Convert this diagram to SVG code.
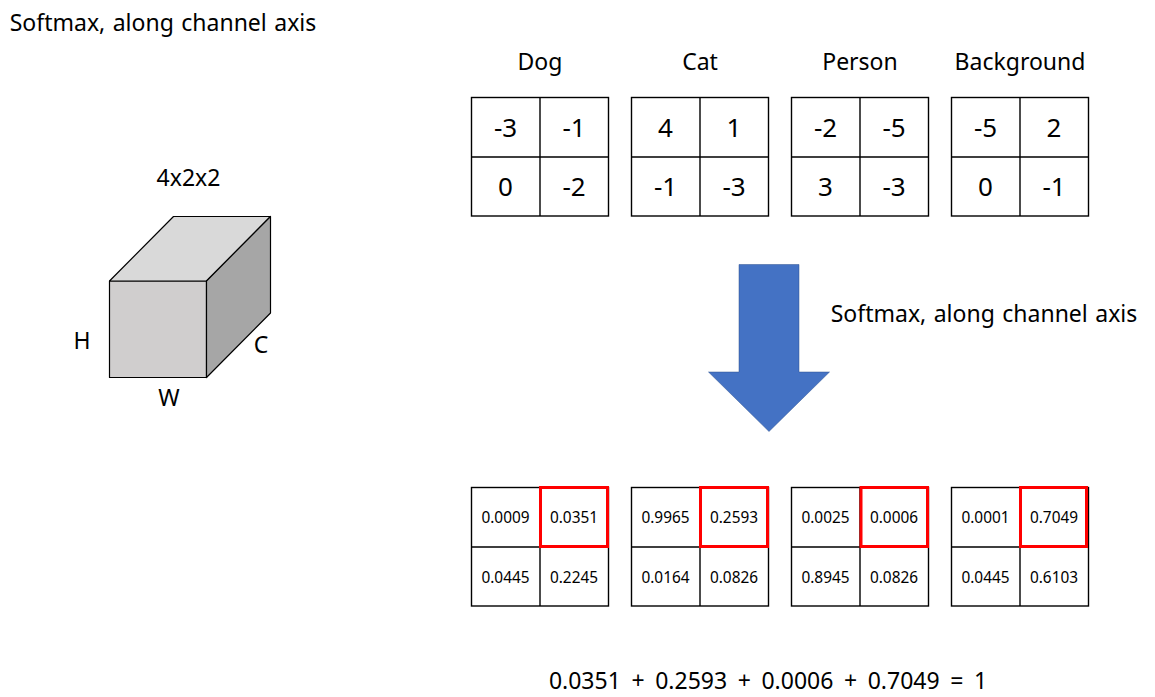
<svg xmlns="http://www.w3.org/2000/svg" width="1155" height="697" viewBox="0 0 1155 697">
<style>
text{font-family:"Noto Sans","Open Sans","Liberation Sans",sans-serif;fill:#000;text-anchor:middle}
.l{font-size:23px}
.w{word-spacing:1.5px}
.n{font-size:26px}
.s{font-size:15.4px}
.g{fill:#fff;stroke:#000;stroke-width:1.4}
.h{fill:none;stroke:#f00;stroke-width:3}
.c{stroke:#000;stroke-width:1.2;stroke-linejoin:round}
</style>
<rect width="1155" height="697" fill="#fff"/>
<text id="title" class="l w" x="163" y="31">Softmax, along channel axis</text>
<g id="cuboid">
<polygon class="c" fill="#d0cece" points="109.500,281 206.500,281 206.500,377.500 109.500,377.500"/>
<polygon class="c" fill="#d9d9d9" points="109.500,281 173.500,216.500 270.500,216.500 206.500,281"/>
<polygon class="c" fill="#a6a6a6" points="206.500,281 270.500,216.500 270.500,313 206.500,377.500"/>
<text class="l" x="188.500" y="186">4x2x2</text>
<text class="l" x="82" y="349">H</text>
<text class="l" x="169" y="406">W</text>
<text class="l" x="261" y="353">C</text>
</g>
<g id="dog"><text class="l" x="540" y="70">Dog</text><rect class="g" x="471.500" y="97.500" width="137" height="118.500"/><path class="g" d="M540 97.500V216M471.500 157H608.500"/>
<text class="n" x="505.500" y="137">-3</text><text class="n" x="574" y="137">-1</text><text class="n" x="505.500" y="196">0</text><text class="n" x="574" y="196">-2</text></g>
<g id="cat"><text class="l" x="700" y="70">Cat</text><rect class="g" x="631.500" y="97.500" width="137" height="118.500"/><path class="g" d="M700 97.500V216M631.500 157H768.500"/>
<text class="n" x="665.500" y="137">4</text><text class="n" x="734" y="137">1</text><text class="n" x="665.500" y="196">-1</text><text class="n" x="734" y="196">-3</text></g>
<g id="person"><text class="l" x="860" y="70">Person</text><rect class="g" x="791.500" y="97.500" width="137" height="118.500"/><path class="g" d="M860 97.500V216M791.500 157H928.500"/>
<text class="n" x="825.500" y="137">-2</text><text class="n" x="894" y="137">-5</text><text class="n" x="825.500" y="196">3</text><text class="n" x="894" y="196">-3</text></g>
<g id="background"><text class="l" x="1020" y="70">Background</text><rect class="g" x="951.500" y="97.500" width="137" height="118.500"/><path class="g" d="M1020 97.500V216M951.500 157H1088.500"/>
<text class="n" x="985.500" y="137">-5</text><text class="n" x="1054" y="137">2</text><text class="n" x="985.500" y="196">0</text><text class="n" x="1054" y="196">-1</text></g>
<g id="arrow"><polygon fill="#4472c4" stroke="#2f528f" stroke-width="0.500" points="739,264.500 799,264.500 799,372 829.500,372 769,431.500 708.500,372 739,372"/></g>
<text id="arrow-label" class="l w" x="984" y="322">Softmax, along channel axis</text>
<g id="dog-p"><rect class="g" x="471.500" y="487.500" width="137" height="118.500"/><path class="g" d="M540 487.500V606M471.500 547H608.500"/>
<text class="s" x="505.500" y="522.500">0.0009</text><text class="s" x="574" y="522.500">0.0351</text><text class="s" x="505.500" y="582.500">0.0445</text><text class="s" x="574" y="582.500">0.2245</text>
<rect class="h" x="540.500" y="487.500" width="67" height="59"/></g>
<g id="cat-p"><rect class="g" x="631.500" y="487.500" width="137" height="118.500"/><path class="g" d="M700 487.500V606M631.500 547H768.500"/>
<text class="s" x="665.500" y="522.500">0.9965</text><text class="s" x="734" y="522.500">0.2593</text><text class="s" x="665.500" y="582.500">0.0164</text><text class="s" x="734" y="582.500">0.0826</text>
<rect class="h" x="700.500" y="487.500" width="67" height="59"/></g>
<g id="person-p"><rect class="g" x="791.500" y="487.500" width="137" height="118.500"/><path class="g" d="M860 487.500V606M791.500 547H928.500"/>
<text class="s" x="825.500" y="522.500">0.0025</text><text class="s" x="894" y="522.500">0.0006</text><text class="s" x="825.500" y="582.500">0.8945</text><text class="s" x="894" y="582.500">0.0826</text>
<rect class="h" x="861" y="487.500" width="66.500" height="59"/></g>
<g id="background-p"><rect class="g" x="951.500" y="487.500" width="137" height="118.500"/><path class="g" d="M1020 487.500V606M951.500 547H1088.500"/>
<text class="s" x="985.500" y="522.500">0.0001</text><text class="s" x="1054" y="522.500">0.7049</text><text class="s" x="985.500" y="582.500">0.0445</text><text class="s" x="1054" y="582.500">0.6103</text>
<rect class="h" x="1020.500" y="487.500" width="66" height="59"/></g>
<text id="sum" class="l" x="768" y="689" style="word-spacing:4.6px">0.0351 + 0.2593 + 0.0006 + 0.7049 = 1</text>
<g id="connectors"/>
</svg>
